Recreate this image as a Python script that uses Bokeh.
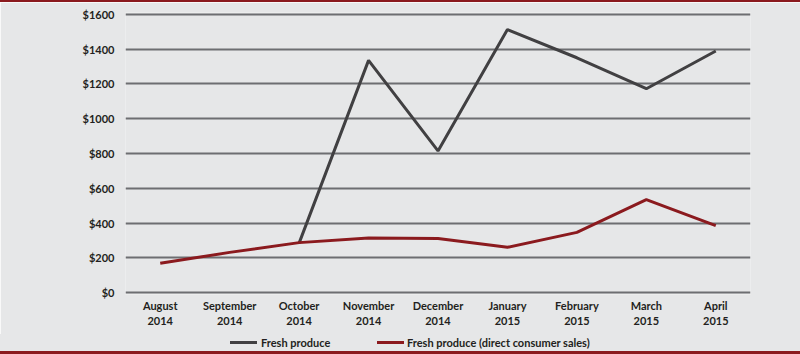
from bokeh.plotting import figure
from bokeh.models import Range1d, NumeralTickFormatter, FixedTicker, Div
from bokeh.layouts import column
from bokeh.embed import file_html
from bokeh.resources import INLINE

months = ["August\n2014", "September\n2014", "October\n2014", "November\n2014", "December\n2014",
          "January\n2015", "February\n2015", "March\n2015", "April\n2015"]
fresh_months = ["October\n2014", "November\n2014", "December\n2014", "January\n2015",
                "February\n2015", "March\n2015", "April\n2015"]
fresh_values = [285, 1335, 815, 1512, 1350, 1172, 1389]
direct_values = [169, 232, 288, 315, 312, 261, 347, 535, 386]
y_ticks = [0, 200, 400, 600, 800, 1000, 1200, 1400, 1600]
series_names = ["Fresh produce", "Fresh produce (direct consumer sales)"]

BG = "#e6e7e8"
FONT = "Lato"
TXT = "#231f20"
RED = "#8b1a1e"
GRAY = "#414042"
FS = "11px"

p = figure(width=800, height=332, x_range=months, y_range=Range1d(-10, 1610),
           output_backend="svg", toolbar_location=None,
           min_border_left=125, min_border_right=50, min_border_top=10, min_border_bottom=40)
p.margin = 0
p.background_fill_color = BG
p.border_fill_color = BG
p.outline_line_color = None

p.xgrid.grid_line_color = None
p.ygrid.grid_line_color = "#6d6e71"
p.ygrid.grid_line_width = 2
p.yaxis.ticker = FixedTicker(ticks=y_ticks)
p.yaxis.formatter = NumeralTickFormatter(format="$0")

for ax in (p.xaxis, p.yaxis):
    ax.axis_line_color = None
    ax.major_tick_line_color = None
    ax.minor_tick_line_color = None
    ax.major_label_text_font = FONT
    ax.major_label_text_font_style = "bold"
    ax.major_label_text_font_size = FS
    ax.major_label_text_color = TXT
p.yaxis.major_label_standoff = 5
p.xaxis.major_label_standoff = -2

p.line(fresh_months, fresh_values, line_color=GRAY, line_width=3)
p.line(months, direct_values, line_color=RED, line_width=3)

# legend strip (HTML) below the chart
legend_html = (
    f'<div style="position:relative;width:800px;height:17px;font-family:{FONT};'
    f'font-size:{FS};font-weight:bold;color:{TXT};">'
    f'<span style="position:absolute;left:230px;top:7px;width:27px;height:3px;background:{GRAY};"></span>'
    f'<span style="position:absolute;left:261px;top:0px;line-height:17px;white-space:nowrap;">{series_names[0]}</span>'
    f'<span style="position:absolute;left:377px;top:7px;width:27px;height:3px;background:{RED};"></span>'
    f'<span style="position:absolute;left:407px;top:0px;line-height:17px;white-space:nowrap;">{series_names[1]}</span>'
    '</div>'
)
legend_div = Div(text=legend_html, width=800, height=17, margin=0,
                 styles={"background-color": BG})

top_bar = Div(text="", width=800, height=2, margin=0, styles={"background-color": RED})
bottom_bar = Div(text="", width=800, height=3, margin=0, styles={"background-color": RED})
layout = column(top_bar, p, legend_div, bottom_bar, spacing=0, margin=0)

open("out.html", "w").write(file_html(layout, INLINE))
